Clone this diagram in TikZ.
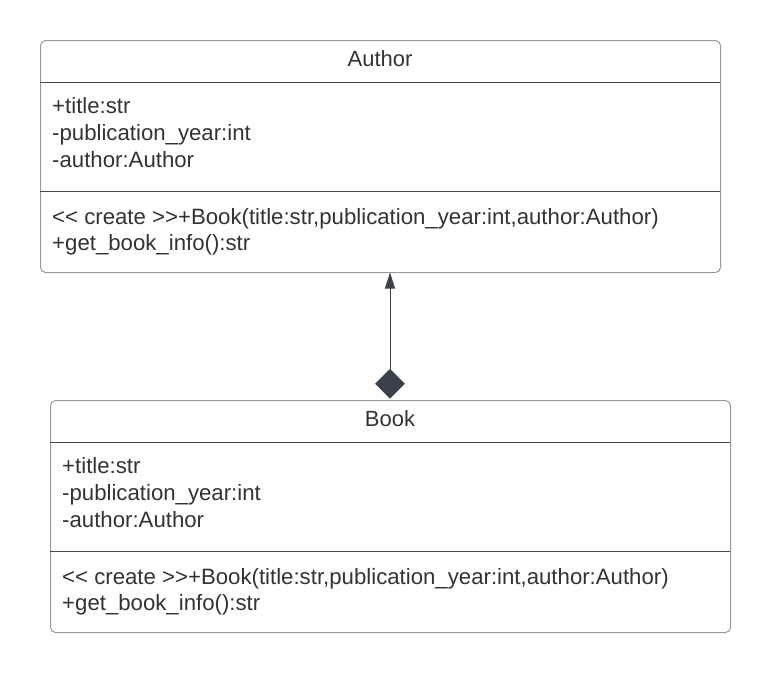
\documentclass[tikz,border=0pt]{standalone}
\usepackage{fontspec}
\setmainfont{Liberation Sans}
\usetikzlibrary{shapes.geometric,arrows.meta}
\definecolor{txt}{HTML}{333333}
\definecolor{frame}{HTML}{9A9A9A}
\definecolor{divider}{HTML}{4A4A4A}
\definecolor{dark}{HTML}{3A414A}
\tikzset{
  classbox/.style={draw=frame, line width=1pt, rounded corners=5pt, fill=white,
    minimum width=680pt, minimum height=232pt, inner sep=0pt, anchor=north west},
  headtext/.style={text=txt, font=\fontsize{22}{26}\selectfont, inner sep=0pt, anchor=base},
  bodytext/.style={text=txt, font=\fontsize{22.2}{27}\selectfont, inner sep=0pt,
    anchor=base west},
  sep/.style={draw=divider, line width=1pt},
  link/.style={draw=dark, line width=1pt, -{Triangle[length=16pt,width=10pt]}},
  compo/.style={diamond, fill=dark, draw=none, minimum width=30pt, minimum height=30pt,
    inner sep=0pt, anchor=south}
}
\begin{document}
\begin{tikzpicture}[x=1pt,y=-1pt]
\useasboundingbox (0,0) rectangle (770,673);
% Author class
\node[classbox] (author) at (40,40) {};
\draw[sep] (40,82) coordinate (a1) -- (720,82) coordinate (a2);
\draw[sep] (40,191) coordinate (a3) -- (720,191) coordinate (a4);
\node[headtext] (authorname) at (380,66) {Author};
\node[bodytext] (authorattr1) at (52,113) {+title:str};
\node[bodytext] (authorattr2) at (52,140) {-publication\_year:int};
\node[bodytext] (authorattr3) at (52,167) {-author:Author};
\node[bodytext] (authorop1) at (52,224) {<{}< create >{}>+Book(title:str,publication\_year:int,author:Author)};
\node[bodytext] (authorop2) at (52,250) {+get\_book\_info():str};
% Book class
\node[classbox] (book) at (50,400) {};
\draw[sep] (50,442) coordinate (b1) -- (730,442) coordinate (b2);
\draw[sep] (50,551) coordinate (b3) -- (730,551) coordinate (b4);
\node[headtext] (bookname) at (390,426) {Book};
\node[bodytext] (bookattr1) at (62,473) {+title:str};
\node[bodytext] (bookattr2) at (62,500) {-publication\_year:int};
\node[bodytext] (bookattr3) at (62,527) {-author:Author};
\node[bodytext] (bookop1) at (62,584) {<{}< create >{}>+Book(title:str,publication\_year:int,author:Author)};
\node[bodytext] (bookop2) at (62,610) {+get\_book\_info():str};
% composition
\node[compo] (diam) at (390,399) {};
\draw[link] (diam.north) -- (390,272.5);
\end{tikzpicture}
\end{document}
